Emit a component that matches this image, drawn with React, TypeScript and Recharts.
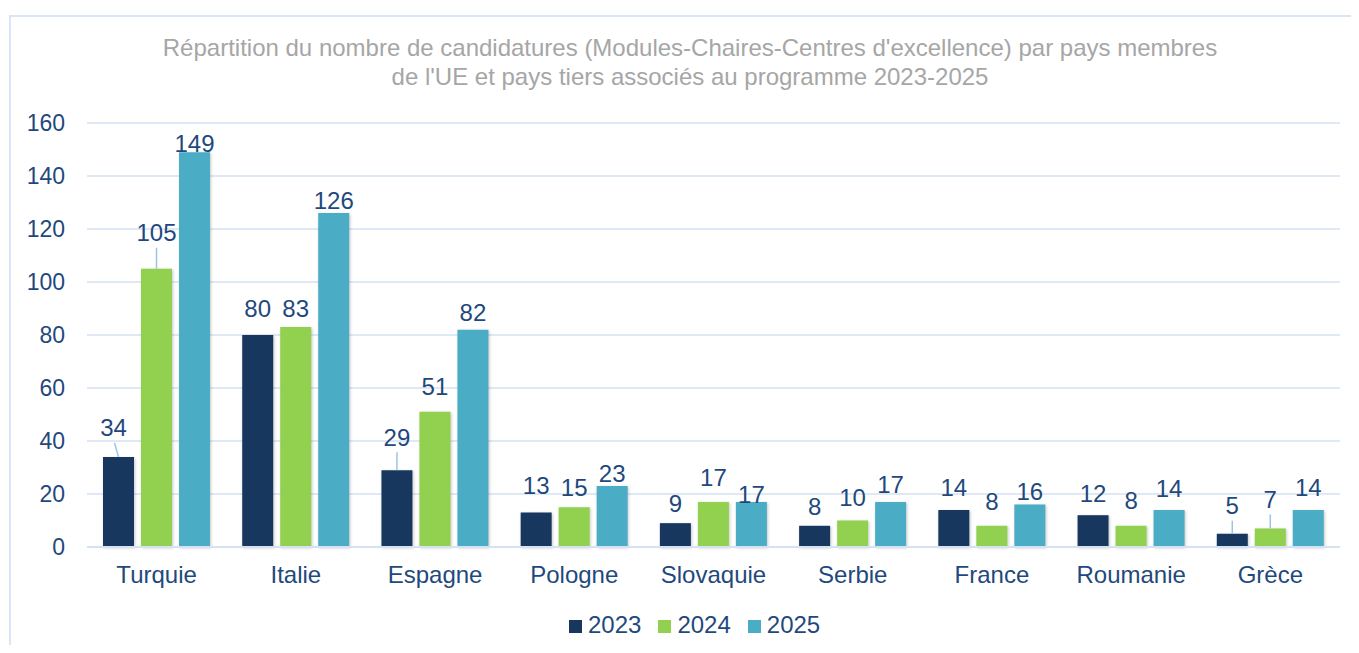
import React from 'react';
import { BarChart, Bar, XAxis, YAxis, CartesianGrid, Legend, LabelList } from 'recharts';

const countries = ['Turquie', 'Italie', 'Espagne', 'Pologne', 'Slovaquie', 'Serbie', 'France', 'Roumanie', 'Grèce'];
const values2023 = [34, 80, 29, 13, 9, 8, 14, 12, 5];
const values2024 = [105, 83, 51, 15, 17, 10, 8, 8, 7];
const values2025 = [149, 126, 82, 23, 17, 17, 16, 14, 14];
const yTicks = [0, 20, 40, 60, 80, 100, 120, 140, 160];

const data = countries.map((country, i) => ({
  country,
  y2023: values2023[i],
  y2024: values2024[i],
  y2025: values2025[i],
}));

const TEXT = '#1F497D';
const GRID = '#D5E2F3';
const FONT = '"Liberation Sans", Arial, sans-serif';

// how far each data label sits above its bar (px, to text centre), as placed in the source
const labelLift: Record<string, number[]> = {
  y2023: [29, 27, 33, 27, 20, 19, 22, 22, 28],
  y2024: [36, 19, 25, 20, 24, 23, 24, 25, 29],
  y2025: [9, 13, 17, 13, 7, 17, 13, 21, 22],
};
// labels joined to their bar by a leader line
const leaders: Record<string, number> = {
  'y2023-0': -5,
  'y2024-0': 0,
  'y2023-2': 0,
  'y2023-8': 0,
  'y2024-8': 0,
};

const makeLabel = (key: string) => (props: any) => {
  const { x, y, width, value, index } = props;
  const cx = x + width / 2;
  const ly = y - labelLift[key][index];
  const dx = leaders[`${key}-${index}`];
  return (
    <g>
      {dx !== undefined && (
        <line x1={cx + dx + (dx ? 1 : 0)} y1={ly + 15} x2={cx} y2={y} stroke="#9DC3E6" strokeWidth={1.5} />
      )}
      <text x={cx + (dx || 0)} y={ly} dominantBaseline="central" textAnchor="middle" fill={TEXT} fontSize={24} fontFamily={FONT}>
        {value}
      </text>
    </g>
  );
};

const barStyle = { filter: 'drop-shadow(1px 1px 1.5px rgba(0,0,0,0.22))' };

const App: React.FC = () => {
  return (
    <div style={{ position: 'relative', margin: -8, width: 1359, height: 653, overflow: 'hidden', background: '#fff', fontFamily: FONT }}>
      <div style={{ position: 'absolute', left: 9, top: 15, width: 1400, height: 700, border: '2px solid #DAE6F5', boxSizing: 'border-box' }} />
      <div style={{ position: 'absolute', left: 0, top: 33, width: 1380, textAlign: 'center', color: '#A6A6A6', fontSize: 24, lineHeight: '29px' }}>
        Répartition du nombre de candidatures (Modules-Chaires-Centres d'excellence) par pays membres
        <br />
        de l'UE et pays tiers associés au programme 2023-2025
      </div>
      <div style={{ position: 'absolute', left: 0, top: 0 }}>
        <BarChart
          width={1359}
          height={653}
          data={data}
          margin={{ top: 123, right: 19, left: 0, bottom: 32 }}
          barCategoryGap={16}
          barGap={7}
        >
          <CartesianGrid vertical={false} stroke={GRID} strokeWidth={1.5} />
          <XAxis
            dataKey="country"
            axisLine={{ stroke: GRID, strokeWidth: 2 }}
            tickLine={false}
            height={46}
            tick={{ fill: TEXT, fontSize: 24, fontFamily: FONT }}
            tickMargin={13}
          />
          <YAxis
            width={87}
            domain={[0, 160]}
            ticks={yTicks}
            axisLine={false}
            tickLine={false}
            tick={{ fill: TEXT, fontSize: 23, fontFamily: FONT }}
            tickMargin={16}
          />
          <Legend
            verticalAlign="bottom"
            iconType="square"
            iconSize={13}
            wrapperStyle={{ fontSize: 24, fontFamily: FONT, top: 611, left: 569, width: 'auto', bottom: 'auto' }}
            formatter={(v: string) => <span style={{ color: TEXT, marginLeft: 2, marginRight: 7 }}>{v}</span>}
          />
          <Bar dataKey="y2023" name="2023" fill="#17375E" style={barStyle} isAnimationActive={false}>
            <LabelList dataKey="y2023" content={makeLabel('y2023')} />
          </Bar>
          <Bar dataKey="y2024" name="2024" fill="#92D050" style={barStyle} isAnimationActive={false}>
            <LabelList dataKey="y2024" content={makeLabel('y2024')} />
          </Bar>
          <Bar dataKey="y2025" name="2025" fill="#4BACC6" style={barStyle} isAnimationActive={false}>
            <LabelList dataKey="y2025" content={makeLabel('y2025')} />
          </Bar>
        </BarChart>
      </div>
    </div>
  );
};

export default App;
